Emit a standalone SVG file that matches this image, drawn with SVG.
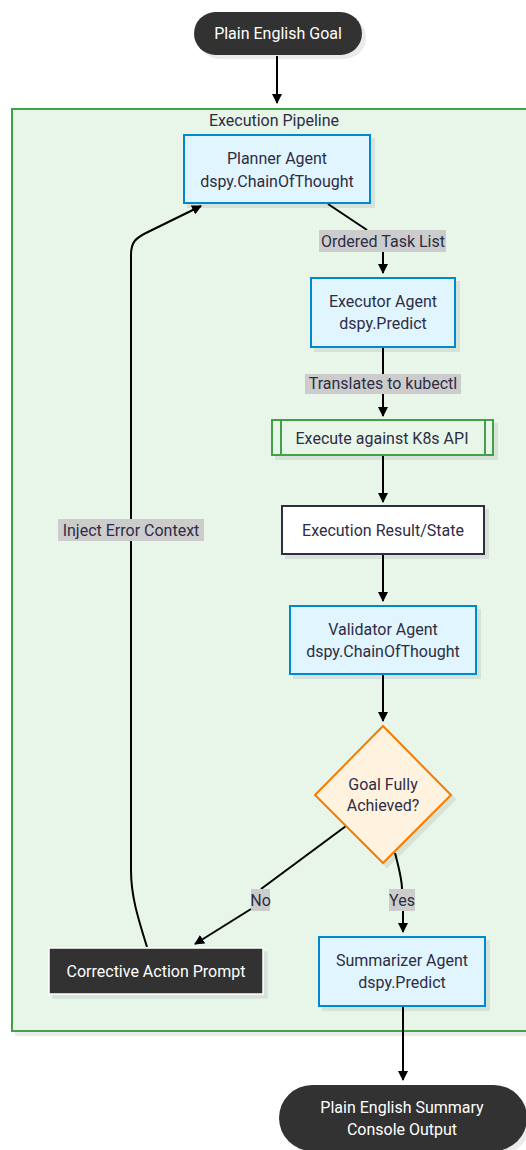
<svg xmlns="http://www.w3.org/2000/svg" width="526" height="1150" viewBox="0 0 526 1150">
<style>
text{font-family:Roboto,"Liberation Sans",sans-serif;font-size:16px;fill:#2d2d45;text-anchor:middle;dominant-baseline:central}
.agent{fill:#e1f5fe;stroke:#0288d1;stroke-width:2}
.dark{fill:#333333}
.wt{fill:#ffffff}
.edge{fill:none;stroke:#000;stroke-width:2}
.lbl{fill:#cccccc}
.sh{filter:url(#ds)}
</style>
<defs>
<marker id="ah" viewBox="0 0 10 10" refX="9" refY="5" markerWidth="10" markerHeight="10" markerUnits="userSpaceOnUse" orient="auto">
<path d="M0,0 L10,5 L0,10 z" fill="#000"/>
</marker>
<filter id="ds" x="-10%" y="-10%" width="130%" height="140%">
<feDropShadow dx="4" dy="4" stdDeviation="0.5" flood-color="#000" flood-opacity="0.08"/>
</filter>
</defs>
<g id="cluster">
<rect class="sh" x="12" y="109" width="530" height="922" fill="#e8f5e9" stroke="#43a047" stroke-width="2"/>
<text x="274" y="120">Execution Pipeline</text>
</g>
<g id="connectors">
<path class="edge" d="M277,56 L277,103" marker-end="url(#ah)"/>
<path class="edge" d="M328,204 L367,230"/>
<path class="edge" d="M383,252 L383,273" marker-end="url(#ah)"/>
<path class="edge" d="M383,347 L383,375"/>
<path class="edge" d="M383,394 L383,416" marker-end="url(#ah)"/>
<path class="edge" d="M383,455 L383,502" marker-end="url(#ah)"/>
<path class="edge" d="M383,554 L383,601" marker-end="url(#ah)"/>
<path class="edge" d="M383,674 L383,721" marker-end="url(#ah)"/>
<path class="edge" d="M346,826 L261,889"/>
<path class="edge" d="M251,909 L195,944" marker-end="url(#ah)"/>
<path class="edge" d="M395,853 C399,868 402,880 402,889"/>
<path class="edge" d="M403,911 L403,932" marker-end="url(#ah)"/>
<path class="edge" d="M403,1006 L403,1080" marker-end="url(#ah)"/>
<path class="edge" d="M147,947 C137,915 131,895 131,870 L131,255 C131,242 135,238 150,231 L201,206" marker-end="url(#ah)"/>
<rect class="lbl" x="319" y="230" width="127" height="22"/>
<text x="383" y="241">Ordered Task List</text>
<rect class="lbl" x="305" y="374" width="156" height="20"/>
<text x="383" y="383">Translates to kubectl</text>
<rect class="lbl" x="58" y="519" width="146" height="22"/>
<text x="131" y="530">Inject Error Context</text>
<rect class="lbl" x="251" y="889" width="19" height="22"/>
<text x="260.5" y="900">No</text>
<rect class="lbl" x="389" y="889" width="26" height="22"/>
<text x="402" y="900">Yes</text>
</g>
<g id="start">
<rect class="sh dark" x="194" y="12" width="168" height="43" rx="21.5"/>
<text class="wt" x="278" y="33">Plain English Goal</text>
</g>
<g id="planner">
<rect class="sh agent" x="184" y="135" width="186" height="68"/>
<text x="277" y="158">Planner Agent</text>
<text x="277" y="181">dspy.ChainOfThought</text>
</g>
<g id="executor">
<rect class="sh agent" x="311" y="278" width="144" height="69"/>
<text x="383" y="301">Executor Agent</text>
<text x="383" y="323">dspy.Predict</text>
</g>
<g id="execute">
<rect class="sh" x="272" y="420" width="221" height="35" fill="#e8f5e9" stroke="#43a047" stroke-width="2"/>
<line x1="281" y1="420" x2="281" y2="455" stroke="#43a047" stroke-width="2"/>
<line x1="485" y1="420" x2="485" y2="455" stroke="#43a047" stroke-width="2"/>
<text x="382" y="438">Execute against K8s API</text>
</g>
<g id="result">
<rect class="sh" x="282" y="506" width="202" height="48" fill="#ffffff" stroke="#2d2d45" stroke-width="2"/>
<text x="383" y="530">Execution Result/State</text>
</g>
<g id="validator">
<rect class="sh agent" x="290" y="606" width="186" height="68"/>
<text x="383" y="629">Validator Agent</text>
<text x="383" y="651">dspy.ChainOfThought</text>
</g>
<g id="decision">
<polygon class="sh" points="383,726 451,795 383,863 315,795" fill="#fff3e0" stroke="#f57c00" stroke-width="2"/>
<text x="383" y="784">Goal Fully</text>
<text x="383" y="805">Achieved?</text>
</g>
<g id="corrective">
<rect class="sh dark" x="49" y="948" width="214" height="46" stroke="#ffffff" stroke-width="1.5"/>
<text class="wt" x="156" y="971">Corrective Action Prompt</text>
</g>
<g id="summarizer">
<rect class="sh agent" x="319" y="937" width="166" height="69"/>
<text x="402" y="960">Summarizer Agent</text>
<text x="402" y="982">dspy.Predict</text>
</g>
<g id="end">
<rect class="sh dark" x="279" y="1085" width="248" height="66" rx="33"/>
<text class="wt" x="402" y="1107">Plain English Summary</text>
<text class="wt" x="402" y="1129">Console Output</text>
</g>
</svg>
